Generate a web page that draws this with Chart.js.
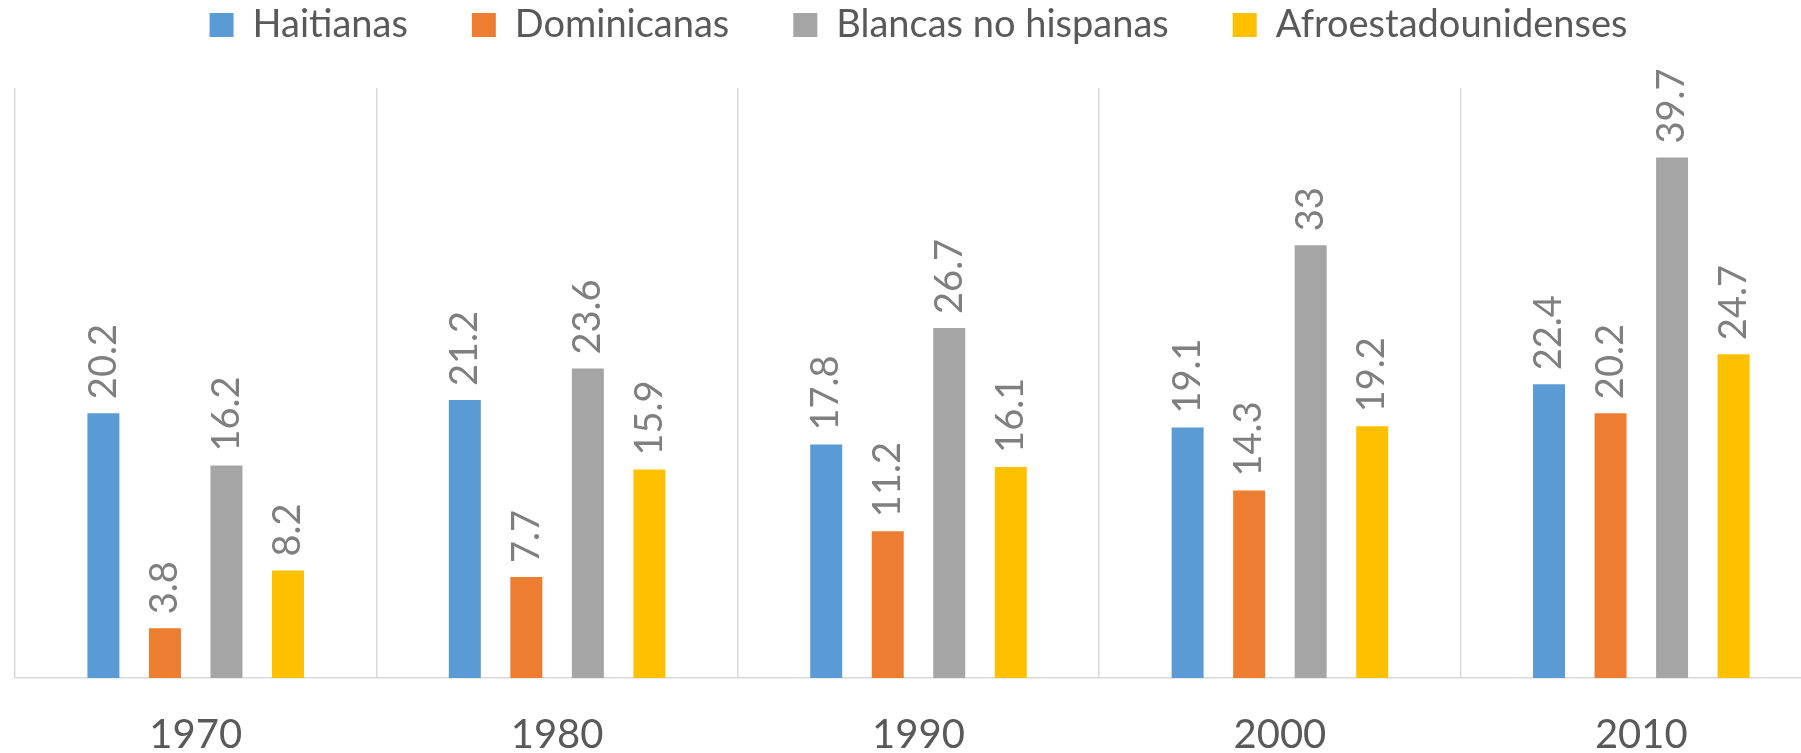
<!DOCTYPE html>
<html>
<head>
<meta charset="utf-8">
<script src="https://cdn.jsdelivr.net/npm/chart.js@4/dist/chart.umd.min.js"></script>
<style>
    html, body { margin: 0; padding: 0; background: #fff; overflow: hidden; }
    #wrap { width: 1850px; height: 792px; }
</style>
</head>
<body>
<div id="wrap"><canvas id="chart"></canvas></div>
<script>
const years = ['1970', '1980', '1990', '2000', '2010']
const haitianas = [20.2, 21.2, 17.8, 19.1, 22.4]
const dominicanas = [3.8, 7.7, 11.2, 14.3, 20.2]
const blancas = [16.2, 23.6, 26.7, 33, 39.7]
const afro = [8.2, 15.9, 16.1, 19.2, 24.7]

const colors = {
    blue: '#5B9BD5',
    orange: '#ED7D31',
    gray: '#A5A5A5',
    yellow: '#FFC000',
}

// legend needs extra room below it before the plot starts
const legendSpace = {
    id: 'legendSpace',
    beforeInit(chart) {
        const fit = chart.legend.fit
        chart.legend.fit = function () {
            fit.bind(chart.legend)()
            this.height = 146
        }
    },
}

// rotated value labels above each bar
const barLabels = {
    id: 'barLabels',
    afterDatasetsDraw(chart) {
        const ctx = chart.ctx
        ctx.save()
        ctx.font = '38px Lato'
        ctx.fillStyle = '#7f7f7f'
        ctx.textAlign = 'left'
        ctx.textBaseline = 'middle'
        chart.data.datasets.forEach((ds, i) => {
            chart.getDatasetMeta(i).data.forEach((bar, j) => {
                ctx.save()
                ctx.translate(bar.x, bar.y - 14)
                ctx.rotate(-Math.PI / 2)
                ctx.fillText(String(ds.data[j]), 0, 0)
                ctx.restore()
            })
        })
        ctx.restore()
    },
}

const bar = (label, data, color) => ({
    label: label,
    data: data,
    backgroundColor: color,
    borderWidth: 0,
    categoryPercentage: 0.681,
    barPercentage: 0.52,
})

new Chart(document.getElementById('chart'), {
    type: 'bar',
    data: {
        labels: years,
        datasets: [
            bar('Haitianas', haitianas, colors.blue),
            bar('Dominicanas', dominicanas, colors.orange),
            bar('Blancas no hispanas', blancas, colors.gray),
            bar('Afroestadounidenses', afro, colors.yellow),
        ],
    },
    options: {
        responsive: true,
        maintainAspectRatio: false,
        animation: false,
        layout: {
            padding: { top: -58, left: 15, right: 28, bottom: 0 },
        },
        plugins: {
            tooltip: { enabled: false },
            legend: {
                position: 'top',
                labels: {
                    boxWidth: 24,
                    boxHeight: 24,
                    padding: 64,
                    color: '#595959',
                    font: { family: 'Lato', size: 38 },
                },
            },
        },
        scales: {
            x: {
                grid: {
                    color: '#d9d9d9',
                    lineWidth: 1.5,
                    drawTicks: false,
                },
                border: { color: '#d9d9d9', width: 1.5 },
                ticks: {
                    color: '#595959',
                    padding: 33,
                    font: { family: 'Lato', size: 40, lineHeight: 1.2 },
                },
            },
            y: {
                display: false,
                min: 0,
                max: 45,
            },
        },
    },
    plugins: [legendSpace, barLabels],
})
</script>
</body>
</html>
